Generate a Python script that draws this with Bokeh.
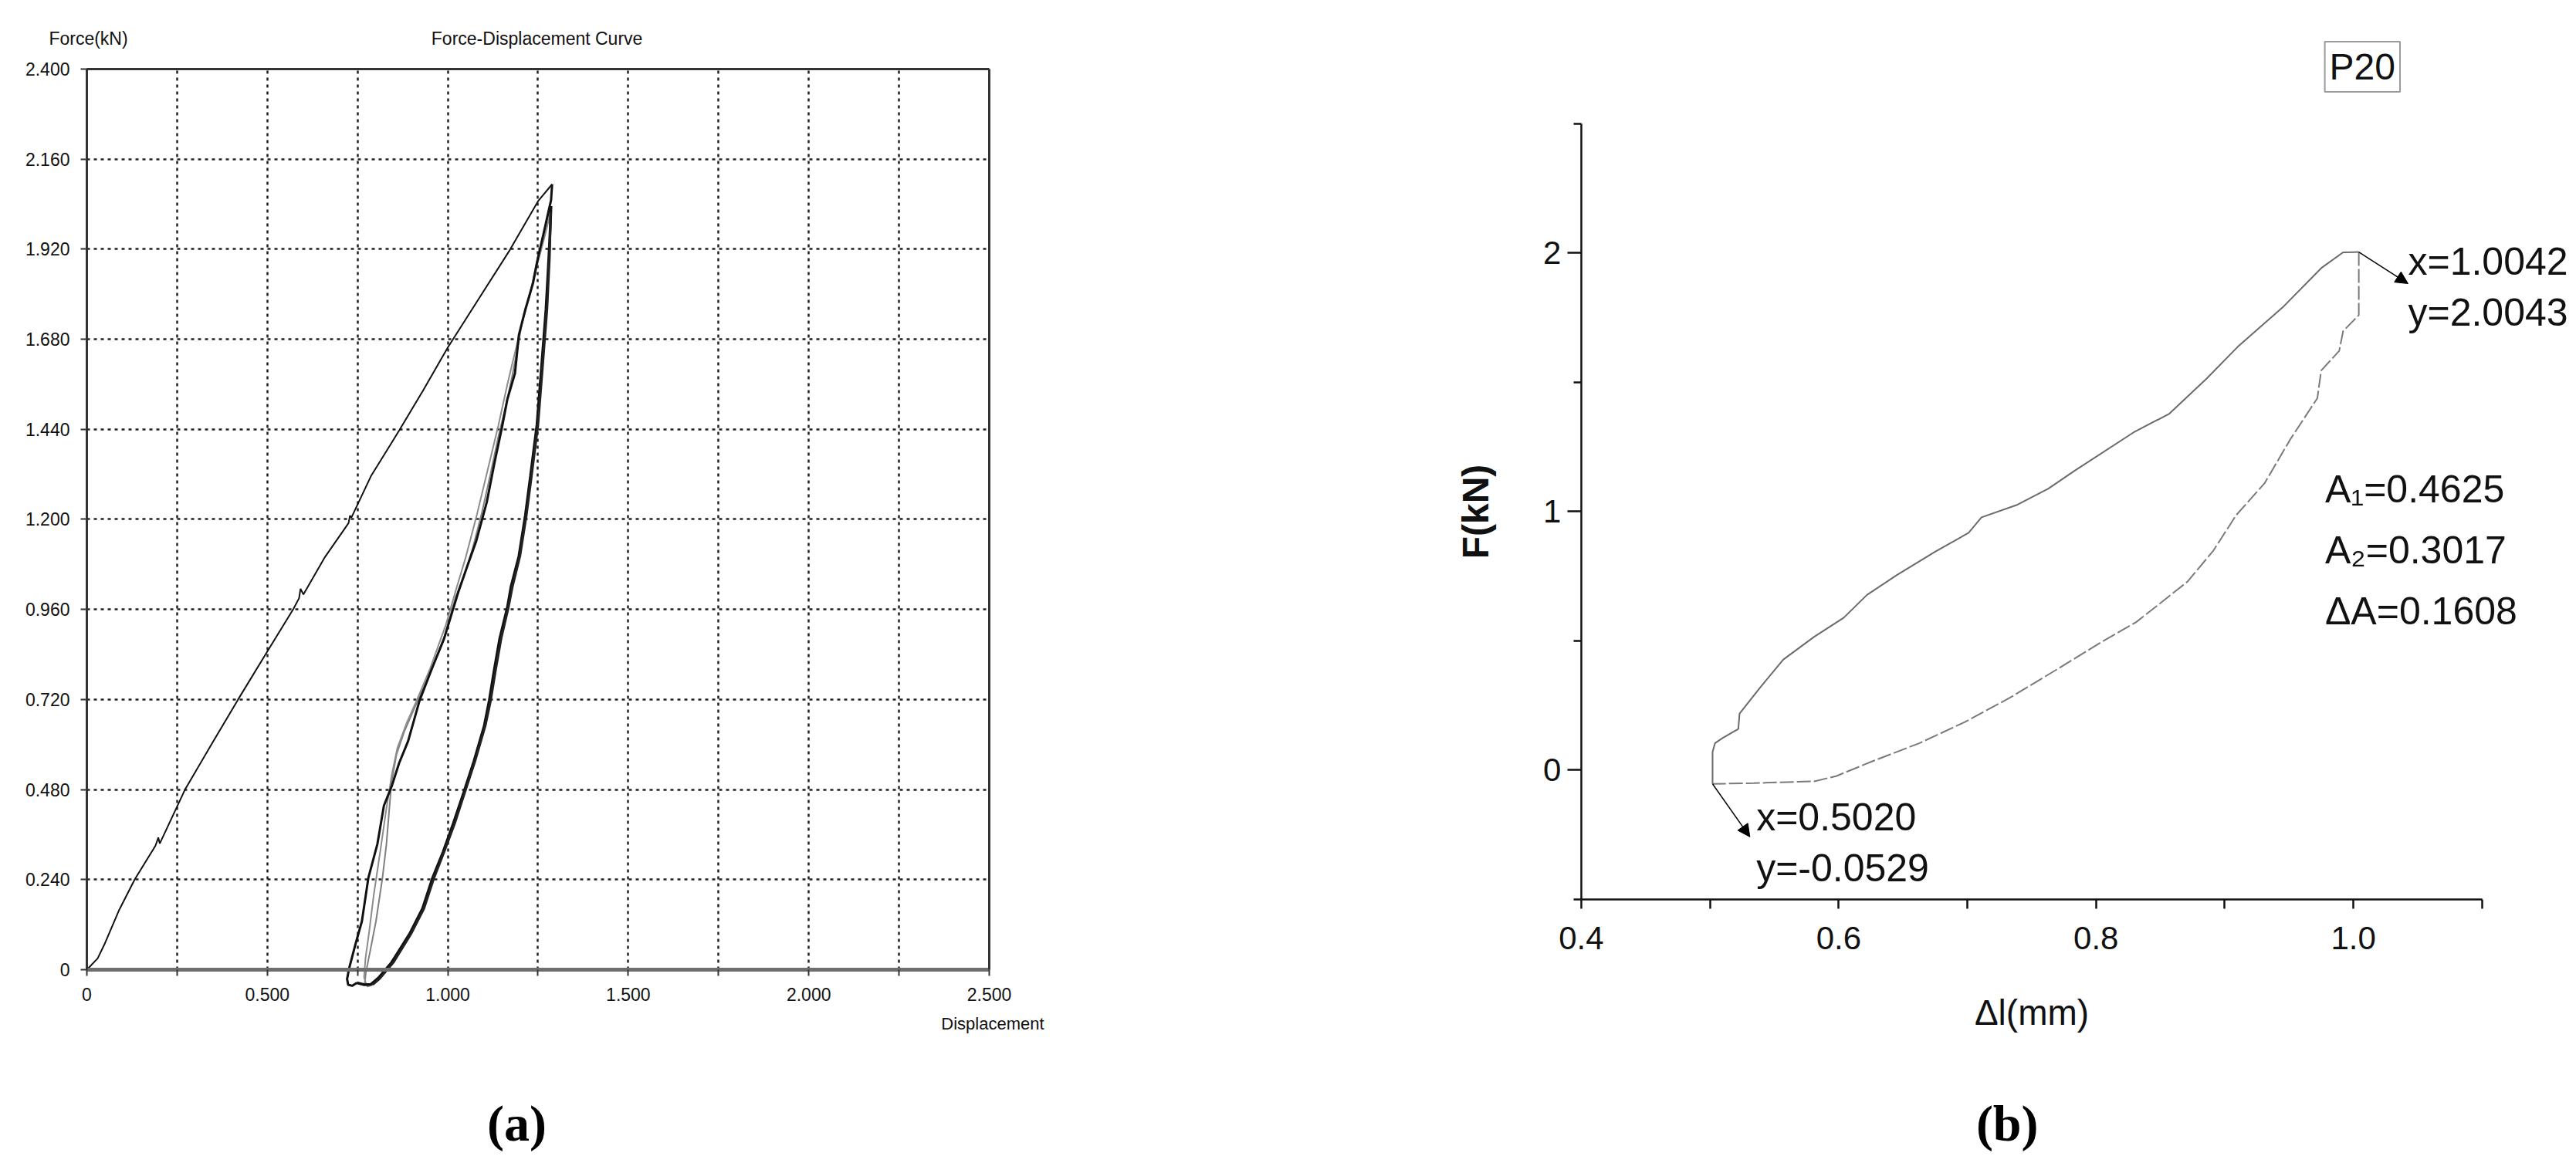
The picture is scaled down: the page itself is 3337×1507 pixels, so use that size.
from bokeh.plotting import figure
from bokeh.models import (FixedTicker, PrintfTickFormatter, Label, Arrow, NormalHead,
                          Range1d, LinearAxis)
from bokeh.layouts import row
from bokeh.embed import file_html
from bokeh.resources import INLINE

# ---------------- (a) data: displacement (mm), force (kN) ----------------
load_x = [0.0, 0.03, 0.05, 0.09, 0.133, 0.19, 0.198, 0.202, 0.272, 0.345, 0.419, 0.495,
          0.572, 0.588, 0.592, 0.60, 0.66, 0.725, 0.729, 0.733, 0.787, 0.866, 0.93, 1.0,
          1.086, 1.172, 1.25, 1.289]
load_y = [0.0, 0.03, 0.07, 0.16, 0.241, 0.33, 0.352, 0.336, 0.48, 0.60, 0.72, 0.84,
          0.961, 0.99, 1.015, 1.0, 1.10, 1.19, 1.21, 1.205, 1.315, 1.438, 1.541, 1.658,
          1.788, 1.918, 2.048, 2.093]

unload1_x = [1.289, 1.286, 1.279, 1.265, 1.250, 1.236, 1.215, 1.197, 1.186, 1.165, 1.150,
             1.129, 1.108, 1.079, 1.052, 1.029, 0.99, 0.955, 0.922, 0.890, 0.865, 0.845,
             0.823, 0.805, 0.780, 0.762, 0.744, 0.727, 0.721, 0.724, 0.735, 0.748]
unload1_y = [2.093, 2.05, 2.021, 1.96, 1.898, 1.829, 1.760, 1.692, 1.589, 1.520, 1.445,
             1.349, 1.246, 1.143, 1.07, 1.006, 0.883, 0.80, 0.718, 0.609, 0.55, 0.49,
             0.437, 0.335, 0.245, 0.129, 0.067, 0.005, -0.025, -0.040, -0.043, -0.035]

reload1_x = [0.748, 0.769, 0.787, 0.808, 0.844, 0.894, 0.930, 0.958, 0.987, 1.015, 1.044,
             1.072, 1.101, 1.115, 1.129, 1.144, 1.165, 1.175, 1.197, 1.215, 1.229, 1.247,
             1.261, 1.272, 1.280, 1.284, 1.286]
reload1_y = [-0.035, -0.040, -0.039, -0.022, 0.019, 0.095, 0.163, 0.245, 0.314, 0.389,
             0.472, 0.554, 0.650, 0.718, 0.801, 0.883, 0.965, 1.020, 1.102, 1.212, 1.315,
             1.452, 1.623, 1.760, 1.900, 1.98, 2.035]

unload2_x = [1.286, 1.275, 1.245, 1.228, 1.205, 1.190, 1.178, 1.160, 1.140, 1.118, 1.095,
             1.068, 1.045, 1.022, 0.987, 0.944, 0.908, 0.880, 0.858, 0.844, 0.830, 0.819,
             0.801, 0.787, 0.773, 0.770, 0.778, 0.792]
unload2_y = [2.035, 2.00, 1.88, 1.80, 1.72, 1.64, 1.58, 1.50, 1.42, 1.32, 1.22, 1.12, 1.05,
             0.993, 0.876, 0.773, 0.698, 0.636, 0.574, 0.499, 0.335, 0.245, 0.129, 0.060,
             -0.008, -0.035, -0.045, -0.040]

reload2_x = [0.792, 0.81, 0.85, 0.898, 0.934, 0.962, 0.99, 1.019, 1.047, 1.075, 1.104,
             1.119, 1.133, 1.148, 1.168, 1.179, 1.200, 1.218, 1.232, 1.25, 1.264, 1.275,
             1.282, 1.285]
reload2_y = [-0.040, -0.025, 0.020, 0.095, 0.163, 0.245, 0.314, 0.389, 0.472, 0.554, 0.650,
             0.718, 0.801, 0.883, 0.965, 1.02, 1.102, 1.212, 1.315, 1.452, 1.623, 1.760,
             1.90, 2.02]

unload3_x = [1.285, 1.27, 1.24, 1.21, 1.185, 1.165, 1.14, 1.11, 1.08, 1.05, 1.025, 0.995,
             0.95, 0.915, 0.885, 0.86, 0.845, 0.83, 0.815, 0.795, 0.782, 0.772, 0.768,
             0.775, 0.79]
unload3_y = [2.02, 1.96, 1.85, 1.74, 1.64, 1.56, 1.45, 1.33, 1.21, 1.10, 1.02, 0.92, 0.80,
             0.72, 0.655, 0.59, 0.52, 0.43, 0.33, 0.20, 0.10, 0.03, -0.02, -0.042, -0.04]

x_ticks_a = [0.0, 0.5, 1.0, 1.5, 2.0, 2.5]
x_minor_a = [0.25, 0.75, 1.25, 1.75, 2.25]
y_ticks_a = [0.0, 0.24, 0.48, 0.72, 0.96, 1.2, 1.44, 1.68, 1.92, 2.16, 2.4]

# ---------------- (b) data ----------------
upper_x = [0.502, 0.502, 0.504, 0.510, 0.522, 0.523, 0.539, 0.557, 0.581, 0.604, 0.622,
           0.645, 0.675, 0.701, 0.711, 0.739, 0.763, 0.783, 0.829, 0.857, 0.886, 0.910,
           0.945, 0.975, 0.992, 1.0042]
upper_y = [-0.0529, 0.071, 0.105, 0.125, 0.159, 0.219, 0.320, 0.428, 0.516, 0.590, 0.678,
           0.754, 0.845, 0.918, 0.978, 1.027, 1.089, 1.157, 1.306, 1.379, 1.515, 1.637,
           1.790, 1.942, 2.003, 2.0043]

lower_x = [1.0042, 1.0042, 0.992, 0.989, 0.975, 0.972, 0.951, 0.931, 0.909, 0.891, 0.871,
           0.851, 0.831, 0.804, 0.769, 0.733, 0.698, 0.663, 0.628, 0.598, 0.581, 0.534,
           0.502]
lower_y = [2.0043, 1.760, 1.698, 1.622, 1.546, 1.439, 1.28, 1.11, 0.987, 0.848, 0.729,
           0.65, 0.572, 0.495, 0.388, 0.280, 0.186, 0.105, 0.038, -0.023, -0.043, -0.050,
           -0.0529]

x_ticks_b = [0.4, 0.6, 0.8, 1.0]
x_minor_b = [0.5, 0.7, 0.9, 1.1]
y_ticks_b = [0, 1, 2]
y_minor_b = [-0.5, 0.5, 1.5, 2.5]

a1, a2, da = 0.4625, 0.3017, 0.1608
max_pt = (1.0042, 2.0043)
min_pt = (0.5020, -0.0529)

FONT = "Liberation Sans"
H = 1500

# ======================= figure (a) =======================
pa = figure(width=1400, height=H, x_range=Range1d(-0.2395, 2.7545),
            y_range=Range1d(-0.5018, 2.5830), title=None,
            output_backend="svg", toolbar_location=None,
            min_border_left=0, min_border_right=0, min_border_top=0, min_border_bottom=0)
pa.outline_line_color = None

xt_a = FixedTicker(ticks=x_ticks_a, minor_ticks=x_minor_a)
yt_a = FixedTicker(ticks=y_ticks_a)
xa = pa.xaxis[0]
ya = pa.yaxis[0]
xa.ticker = xt_a
ya.ticker = yt_a
for ax in (xa, ya):
    ax.formatter = PrintfTickFormatter(format="%.3f")
    ax.major_label_overrides = {0: "0"}
    ax.major_label_text_font = FONT
    ax.major_label_text_font_size = "23px"
    ax.major_label_text_color = "#111111"
    ax.major_tick_in = 0
    ax.major_tick_out = 8
    ax.minor_tick_in = 0
    ax.minor_tick_out = 8
    ax.major_tick_line_color = "#333333"
    ax.minor_tick_line_color = "#333333"
    ax.major_tick_line_width = 2
    ax.minor_tick_line_width = 2
xa.fixed_location = 0
xa.bounds = (0, 2.5)
xa.axis_line_color = "#6e6e6e"
xa.axis_line_width = 5
xa.major_label_standoff = 16
ya.fixed_location = 0
ya.bounds = (0, 2.4)
ya.axis_line_color = "#333333"
ya.axis_line_width = 3
ya.major_label_standoff = 14
ya.minor_tick_line_color = None

# box: top and right edges as tick-less axes
top_ax = LinearAxis(fixed_location=2.4, bounds=(0, 2.5), ticker=FixedTicker(ticks=[]),
                    axis_line_color="#333333", axis_line_width=3,
                    major_tick_line_color=None, minor_tick_line_color=None,
                    major_label_text_color=None)
right_ax = LinearAxis(fixed_location=2.5, bounds=(0, 2.4), ticker=FixedTicker(ticks=[]),
                      axis_line_color="#333333", axis_line_width=3,
                      major_tick_line_color=None, minor_tick_line_color=None,
                      major_label_text_color=None)
pa.add_layout(top_ax, "above")
pa.add_layout(right_ax, "right")

gx, gy = pa.xgrid[0], pa.ygrid[0]
gx.ticker = xt_a
gy.ticker = yt_a
grid_ok = True
try:
    gx.cross_bounds = (0, 2.4)
    gy.cross_bounds = (0, 2.5)
except Exception:
    grid_ok = False
if grid_ok:
    for g in (gx, gy):
        g.grid_line_color = "#222222"
        g.grid_line_dash = "4 5"
        g.grid_line_width = 2.5
    gx.minor_grid_line_color = "#222222"
    gx.minor_grid_line_dash = "4 5"
    gx.minor_grid_line_width = 2.5
else:
    pa.grid.visible = False
    vx = x_ticks_a + x_minor_a
    pa.segment(x0=vx, y0=[y_ticks_a[0]] * len(vx), x1=vx, y1=[y_ticks_a[-1]] * len(vx),
               line_color="#222222", line_dash="4 5", line_width=2.5)
    pa.segment(x0=[x_ticks_a[0]] * len(y_ticks_a), y0=y_ticks_a,
               x1=[x_ticks_a[-1]] * len(y_ticks_a), y1=y_ticks_a,
               line_color="#222222", line_dash="4 5", line_width=2.5)

pa.line(load_x, load_y, line_color="#111111", line_width=2)
pa.line(unload2_x, unload2_y, line_color="#808080", line_width=2)
pa.line(unload3_x, unload3_y, line_color="#8c8c8c", line_width=2)
pa.line(unload1_x, unload1_y, line_color="#111111", line_width=3)
pa.line(reload1_x, reload1_y, line_color="#111111", line_width=3.5)
pa.line(reload2_x, reload2_y, line_color="#222222", line_width=3)

pa.add_layout(Label(x=-0.105, y=2.482, text="Force(kN)", text_font=FONT,
                    text_font_size="23px", text_baseline="middle", text_color="#111111"))
pa.add_layout(Label(x=1.247, y=2.482, text="Force-Displacement Curve", text_font=FONT,
                    text_font_size="23px", text_align="center", text_baseline="middle",
                    text_color="#111111"))
pa.add_layout(Label(x=2.367, y=-0.144, text="Displacement", text_font=FONT,
                    text_font_size="22px", text_baseline="middle", text_color="#111111"))
pa.add_layout(Label(x=1.191, y=-0.409, text="(a)", text_font="Liberation Serif",
                    text_font_size="66px", text_font_style="bold", text_align="center",
                    text_baseline="middle", text_color="black"))

# ======================= figure (b) =======================
pb = figure(width=1930, height=H, x_range=Range1d(0.0113, 1.1691),
            y_range=Range1d(-1.5, 2.9776), title=None,
            output_backend="svg", toolbar_location=None,
            min_border_left=0, min_border_right=0, min_border_top=0, min_border_bottom=0)
pb.outline_line_color = None
pb.grid.visible = False

xb = pb.xaxis[0]
yb = pb.yaxis[0]
xb.ticker = FixedTicker(ticks=x_ticks_b, minor_ticks=x_minor_b)
xb.formatter = PrintfTickFormatter(format="%.1f")
xb.fixed_location = -0.5
xb.bounds = (0.4, 1.1)
xb.major_tick_out = 12
xb.minor_tick_out = 12
xb.major_label_standoff = 24
xb.axis_label = "Δl(mm)"
xb.axis_label_standoff = 52
xb.axis_label_text_font_size = "46px"

yb.ticker = FixedTicker(ticks=y_ticks_b, minor_ticks=y_minor_b)
yb.formatter = PrintfTickFormatter(format="%d")
yb.fixed_location = 0.4
yb.bounds = (-0.5, 2.5)
yb.major_tick_out = 18
yb.minor_tick_out = 10
yb.major_label_standoff = 8
yb.axis_label = "F(kN)"
yb.axis_label_standoff = 58
yb.axis_label_text_font_size = "48px"
yb.axis_label_text_font_style = "bold"

for ax in (xb, yb):
    ax.major_tick_in = 0
    ax.minor_tick_in = 0
    ax.axis_line_width = 2.5
    ax.axis_line_color = "#111111"
    ax.major_tick_line_width = 2.5
    ax.minor_tick_line_width = 2.5
    ax.major_tick_line_color = "#111111"
    ax.minor_tick_line_color = "#111111"
    ax.major_label_text_font = FONT
    ax.major_label_text_font_size = "42px"
    ax.major_label_text_color = "#111111"
    ax.axis_label_text_font = FONT
    ax.axis_label_text_color = "#111111"
xb.axis_label_text_font_style = "normal"

pb.line(upper_x, upper_y, line_color="#6a6a6a", line_width=2)
pb.line(lower_x, lower_y, line_color="#7a7a7a", line_width=2, line_dash="18 4")

pb.add_layout(Arrow(end=NormalHead(size=16, fill_color="black", line_color="black"),
                    x_start=max_pt[0], y_start=max_pt[1], x_end=1.0425, y_end=1.882,
                    line_color="black", line_width=1.5))
pb.add_layout(Arrow(end=NormalHead(size=16, fill_color="black", line_color="black"),
                    x_start=min_pt[0], y_start=min_pt[1], x_end=0.531, y_end=-0.258,
                    line_color="black", line_width=1.5))


def tlabel(p, x, y, txt, size="50px", **kw):
    p.add_layout(Label(x=x, y=y, text=txt, text_font=FONT, text_font_size=size,
                       text_baseline="middle", text_color="#111111", **kw))


tlabel(pb, 1.0425, 1.966, f"x={max_pt[0]:.4f}")
tlabel(pb, 1.0425, 1.769, f"y={max_pt[1]:.4f}")
tlabel(pb, 0.978, 1.088, f"A\u2081={a1:.4f}")
tlabel(pb, 0.978, 0.852, f"A\u2082={a2:.4f}")
tlabel(pb, 0.978, 0.616, f"\u0394A={da:.4f}")
tlabel(pb, 0.536, -0.183, f"x={min_pt[0]:.4f}")
tlabel(pb, 0.536, -0.38, f"y={min_pt[1]:.4f}")

pb.add_layout(Label(x=1.007, y=2.721, text="P20", text_font=FONT, text_font_size="48px",
                    text_align="center", text_baseline="middle", text_color="#111111",
                    border_line_color="#9a9a9a", border_line_width=2,
                    background_fill_color="white", padding=6))
pb.add_layout(Label(x=0.731, y=-1.366, text="(b)", text_font="Liberation Serif",
                    text_font_size="66px", text_font_style="bold", text_align="center",
                    text_baseline="middle", text_color="black"))

layout = row(pa, pb)
open("out.html", "w").write(file_html(layout, INLINE))
